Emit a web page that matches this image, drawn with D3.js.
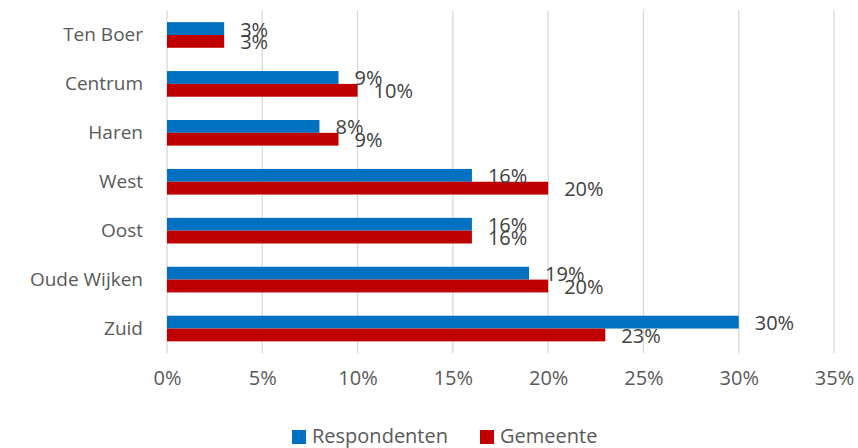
<!DOCTYPE html>
<html>
<head>
<meta charset="utf-8">
<script src="https://cdn.jsdelivr.net/npm/d3@7"></script>
<style>
  body { margin: 0; background: #fff; }
  svg { font-family: "Open Sans", sans-serif; }
</style>
</head>
<body>
<svg id="chart" width="858" height="448"></svg>
<script>
// regions, top to bottom
const CATEGORIES = ['Ten Boer', 'Centrum', 'Haren', 'West', 'Oost', 'Oude Wijken', 'Zuid'];
// share of respondents / municipality per region
const RESPONDENTEN = [0.03, 0.09, 0.08, 0.16, 0.16, 0.19, 0.30];
const GEMEENTE = [0.03, 0.10, 0.09, 0.20, 0.16, 0.20, 0.23];
const SERIES = ['Respondenten', 'Gemeente'];
const X_TICKS = [0, 0.05, 0.10, 0.15, 0.20, 0.25, 0.30, 0.35];

const COLORS = ['#0070C0', '#C00000'];
const FONT_SIZE = 19;

const svg = d3.select('#chart');

// plot area
const LEFT = 167, RIGHT = 834, TOP = 10.5, BOTTOM = 353;

const x = d3.scaleLinear().domain([0, 0.35]).range([LEFT, RIGHT]);
const y = d3.scaleBand().domain(CATEGORIES).range([TOP, BOTTOM]).paddingInner(0.476).paddingOuter(0.238);
const ySub = d3.scaleBand().domain(SERIES).range([0, y.bandwidth()]);

// gridlines
svg.append('g')
    .selectAll('line')
    .data(X_TICKS)
    .join('line')
    .attr('x1', d => x(d)).attr('x2', d => x(d))
    .attr('y1', TOP).attr('y2', BOTTOM)
    .attr('stroke', '#d9d9d9')
    .attr('stroke-width', 1.3);

// x axis labels
const xAxis = d3.axisBottom(x)
    .tickValues(X_TICKS)
    .tickFormat(d3.format('.0%'))
    .tickSize(0)
    .tickPadding(0);
const xAxisG = svg.append('g').attr('transform', `translate(0, ${BOTTOM + 18})`).call(xAxis);
xAxisG.select('.domain').remove();
xAxisG.selectAll('text')
    .attr('dy', '0.71em')
    .style('font-size', '20px')
    .style('font-family', '"Open Sans", sans-serif')
    .attr('fill', '#595959');

// y axis labels
const yAxis = d3.axisLeft(y).tickSize(0).tickPadding(24);
const yAxisG = svg.append('g').attr('transform', `translate(${LEFT}, 0)`).call(yAxis);
yAxisG.select('.domain').remove();
yAxisG.selectAll('text')
    .style('font-size', FONT_SIZE + 'px')
    .style('font-family', '"Open Sans", sans-serif')
    .attr('fill', '#595959');

// bars
const rows = CATEGORIES.map((c, i) => [
    { cat: c, series: 'Respondenten', value: RESPONDENTEN[i] },
    { cat: c, series: 'Gemeente', value: GEMEENTE[i] },
]).flat();

svg.append('g')
    .selectAll('rect')
    .data(rows)
    .join('rect')
    .attr('x', x(0))
    .attr('y', d => y(d.cat) + ySub(d.series))
    .attr('width', d => x(d.value) - x(0))
    .attr('height', ySub.bandwidth())
    .attr('fill', d => COLORS[SERIES.indexOf(d.series)]);

// value labels
svg.append('g')
    .selectAll('text')
    .data(rows)
    .join('text')
    .attr('x', d => x(d.value) + 16)
    .attr('y', d => y(d.cat) + ySub(d.series) + ySub.bandwidth() / 2 + 1)
    .attr('dy', '0.35em')
    .style('font-size', '20px')
    .attr('fill', '#404040')
    .text(d => d3.format('.0%')(d.value));

// legend
const legend = svg.append('g');
const LEGEND_X = [292, 480];
SERIES.forEach((s, i) => {
    legend.append('rect')
        .attr('x', LEGEND_X[i]).attr('y', 430)
        .attr('width', 14).attr('height', 14)
        .attr('fill', COLORS[i]);
    legend.append('text')
        .attr('x', LEGEND_X[i] + 20).attr('y', 436)
        .attr('dy', '0.35em')
        .style('font-size', '20px')
        .attr('fill', '#595959')
        .text(s);
});
</script>
</body>
</html>
